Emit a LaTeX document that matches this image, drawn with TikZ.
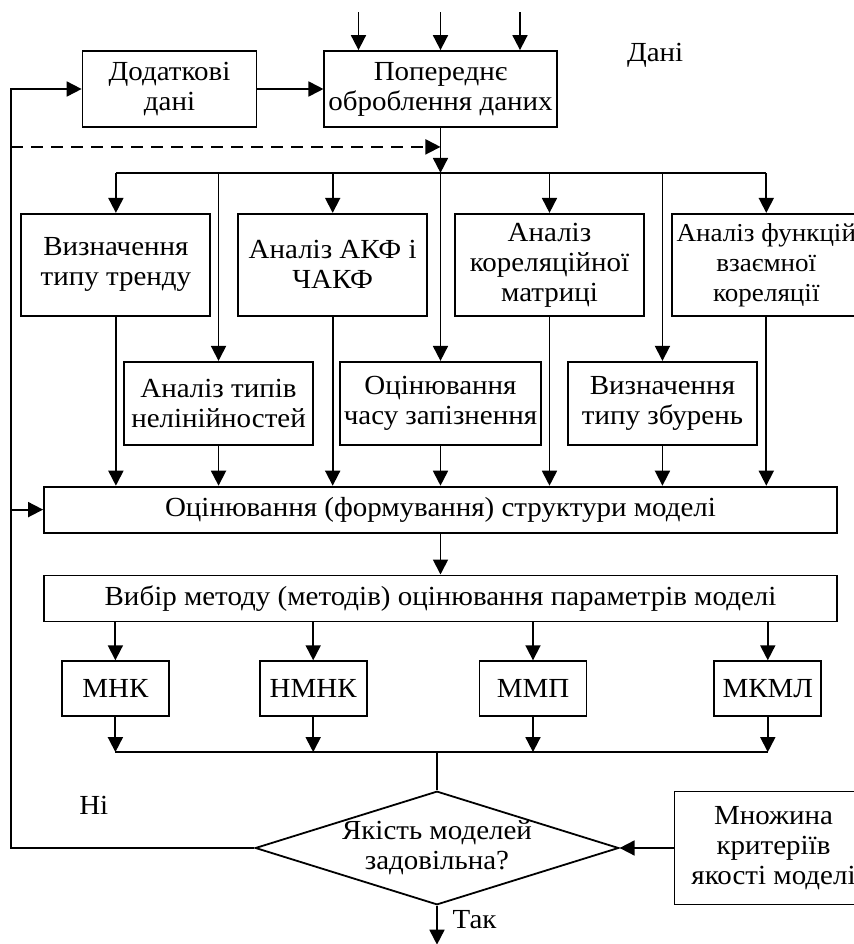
\documentclass[tikz,border=0pt]{standalone}
\usepackage{fontspec}
\setmainfont{Liberation Serif}[FakeStretch=1.05]
\usetikzlibrary{arrows.meta, shapes.geometric, positioning, calc}

\begin{document}
\begin{tikzpicture}
        [->, >={Triangle[length=7.5pt,width=7.5pt]}, line width=0.9pt, node distance=2cm,
        font=\fontsize{13.8pt}{15pt}\selectfont,
        block/.style={rectangle, draw=black, align=center, inner xsep=2pt, minimum height=38pt},
        upper/.style={block, minimum width=94.5pt, minimum height=51pt},
        lower/.style={block, minimum width=94.5pt, minimum height=41.5pt},
        wide/.style={block, minimum width=396.5pt, minimum height=23pt},
        method/.style={block, minimum width=53.5pt, minimum height=27.5pt},
        decision/.style={diamond, draw=black, align=center, aspect=3.2, inner sep=0pt, minimum width=181pt, minimum height=56.5pt},
        caption/.style={draw=none, fill=none}]
        \useasboundingbox (-220.25pt,44.5pt) rectangle (206.75pt,-427.5pt);

        \node[block, minimum width=109.5pt]  (pre)
        {Попереднє \\ оброблення даних};

        \node[block, minimum width=87pt]  (extra)    [left=33pt of pre]
        {Додаткові \\ дані};

        \node[caption]  (data)    [right=31pt of pre, yshift=17pt] {Дані};

        % first row of analyses
        \node[upper]  (corr)    [below=42.5pt of pre, xshift=54.5pt]
        {Аналіз \\ кореляційної \\ матриці};

        \node[upper]  (akf)    [left=13pt of corr]
        {Аналіз АКФ і \\ ЧАКФ};

        \node[upper]  (trend)    [left=13pt of akf]
        {Визначення \\ типу тренду};

        \node[upper, inner xsep=1pt, font=\fontsize{12.9pt}{15pt}\selectfont]  (cross)    [right=13pt of corr]
        {Аналіз функцій \\ взаємної \\ кореляції};

        % second row of analyses
        \node[lower]  (delay)    [below=116.5pt of pre]
        {Оцінювання \\ часу запізнення};

        \node[lower]  (nonlin)    [left=12.5pt of delay]
        {Аналіз типів \\ нелінійностей};

        \node[lower]  (dist)    [right=12.5pt of delay]
        {Визначення \\ типу збурень};

        \node[wide]  (struct)    [below=20pt of delay]
        {Оцінювання (формування) структури моделі};

        \node[wide]  (choice)    [below=20.5pt of struct]
        {Вибір методу (методів) оцінювання параметрів моделі};

        % estimation methods
        \node[method]  (mmp)    [below=19pt of choice, xshift=46.25pt] {ММП};
        \node[method]  (nmnk)    [left=55.5pt of mmp] {НМНК};
        \node[method]  (mnk)    [left=44.5pt of nmnk] {МНК};
        \node[method]  (mkml)    [right=63pt of mmp] {МКМЛ};

        \node[decision]  (check)    [below=84pt of choice, xshift=-1.75pt]
        {Якість моделей \\ задовільна?};

        \node[block, minimum width=99pt, minimum height=56.5pt]  (criteria)    [right=27pt of check]
        {Множина \\ критеріїв \\ якості моделі};

        \coordinate (in1) at ($(pre.north)+(-41pt,19pt)$);
        \coordinate (in2) at ($(pre.north)+(0pt,19pt)$);
        \coordinate (in3) at ($(pre.north)+(39.75pt,19pt)$);
        \coordinate (join) at ($(pre.south)+(0pt,-9.5pt)$);
        \coordinate (split) at ($(pre.south)+(0pt,-22.5pt)$);
        \coordinate (merge) at ($(mmp.south)+(0pt,-17.5pt)$);
        \coordinate (back) at ($(struct.west)+(-16pt,0pt)$);
        \coordinate (exit) at ($(check.south)+(0pt,-19.5pt)$);

        \draw[-] (split -| trend) -- (split -| cross);
        \draw[-] (mnk |- merge) -- (mkml |- merge);
        \draw[-] (merge -| check) -- (check);
        \draw[dash pattern=on 6pt off 4pt] (back |- join) -- (join);
        \draw (check.west) -| node[pos=0.33, above=13pt] {Ні} (back |- extra) -- (extra);

        \path (in1) edge                 (in1 |- pre.north)
              (in2) edge                 (pre)
              (in3) edge                 (in3 |- pre.north)
              (extra) edge               (pre)
              (pre) edge                 (split)
              (split -| trend) edge      (trend)
              (split -| akf) edge        (akf)
              (split -| corr) edge       (corr)
              (split -| cross) edge      (cross)
              (split -| nonlin) edge     (nonlin)
              (split -| delay) edge      (delay)
              (split -| dist) edge       (dist)
              (trend) edge               (trend |- struct.north)
              (akf) edge                 (akf |- struct.north)
              (corr) edge                (corr |- struct.north)
              (cross) edge               (cross |- struct.north)
              (nonlin) edge              (nonlin |- struct.north)
              (delay) edge               (struct)
              (dist) edge                (dist |- struct.north)
              (back) edge                (struct)
              (struct) edge              (choice)
              (choice.south -| mnk) edge (mnk)
              (choice.south -| nmnk) edge (nmnk)
              (choice.south -| mmp) edge (mmp)
              (choice.south -| mkml) edge (mkml)
              (mnk) edge                 (mnk |- merge)
              (nmnk) edge                (nmnk |- merge)
              (mmp) edge                 (mmp |- merge)
              (mkml) edge                (mkml |- merge)
              (criteria) edge            (check)
              (check) edge  node[right=4pt, pos=0.35] {Так}  (exit);
\end{tikzpicture}
\end{document}
